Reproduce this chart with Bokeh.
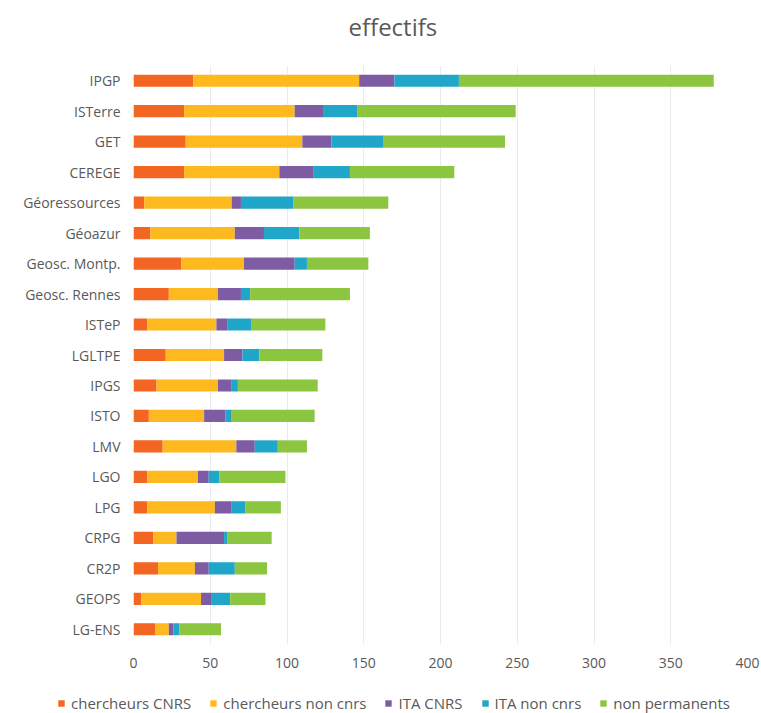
from bokeh.plotting import figure
from bokeh.layouts import column
from bokeh.models import Legend, LegendItem, FactorRange, Range1d, FixedTicker, ColumnDataSource, Label
from bokeh.embed import file_html
from bokeh.resources import INLINE

labos = ["IPGP", "ISTerre", "GET", "CEREGE", "Géoressources", "Géoazur",
         "Geosc. Montp.", "Geosc. Rennes", "ISTeP", "LGLTPE", "IPGS", "ISTO",
         "LMV", "LGO", "LPG", "CRPG", "CR2P", "GEOPS", "LG-ENS"]
chercheurs_cnrs = [39, 33, 34, 33, 7, 11, 31, 23, 9, 21, 15, 10, 19, 9, 9, 13, 16, 5, 14]
chercheurs_non_cnrs = [108, 72, 76, 62, 57, 55, 41, 32, 45, 38, 40, 36, 48, 33, 44, 15, 24, 39, 9]
ita_cnrs = [23, 19, 19, 22, 6, 19, 33, 15, 7, 12, 9, 14, 12, 7, 11, 31, 9, 7, 3]
ita_non_cnrs = [42, 22, 34, 24, 34, 23, 8, 6, 16, 11, 4, 4, 15, 7, 9, 2, 17, 12, 4]
non_permanents = [166, 103, 79, 68, 62, 46, 40, 65, 48, 41, 52, 54, 19, 43, 23, 29, 21, 23, 27]

title_text = "effectifs"
series_names = ["chercheurs CNRS", "chercheurs non cnrs", "ITA CNRS", "ITA non cnrs", "non permanents"]
x_ticks = [0, 50, 100, 150, 200, 250, 300, 350, 400]

colors = ["#F26522", "#FDB91E", "#7E5CA4", "#1FA6C9", "#8CC540"]
keys = ["s0", "s1", "s2", "s3", "s4"]

src = ColumnDataSource(dict(labo=labos, s0=chercheurs_cnrs, s1=chercheurs_non_cnrs,
                            s2=ita_cnrs, s3=ita_non_cnrs, s4=non_permanents))

FONT = "Open Sans"
GREY = "#595959"
W = 761
TH = 45            # title strip
LH = 33            # legend strip
H = 713 - TH - LH  # chart


def strip(height):
    f = figure(width=W, height=height, x_range=Range1d(0, 1), y_range=Range1d(0, 1),
               output_backend="svg", toolbar_location=None, title=None,
               x_axis_location=None, y_axis_location=None,
               min_border=0, min_border_left=0, min_border_right=0,
               min_border_top=0, min_border_bottom=0)
    if "frame_align" in f.properties():
        f.frame_align = False
    f.grid.visible = False
    f.outline_line_color = None
    return f


# title strip
tf = strip(TH)
tf.add_layout(Label(x=348, y=19, x_units="screen", y_units="screen",
                    text=title_text, text_font=FONT, text_font_size="24px",
                    text_color=GREY, text_align="left", text_baseline="alphabetic"))

# main chart
p = figure(y_range=FactorRange(*labos[::-1]), x_range=Range1d(0, 400),
           width=W, height=H, output_backend="svg", toolbar_location=None, title=None,
           min_border_left=133, min_border_right=W - 747,
           min_border_top=65 - TH, min_border_bottom=H - (644 - TH))
if "frame_align" in p.properties():
    p.frame_align = False
p.outline_line_color = None
p.background_fill_color = "white"

renderers = p.hbar_stack(keys, y="labo", height=0.4, color=colors, source=src,
                         line_color=None)

p.xaxis.ticker = FixedTicker(ticks=x_ticks)
for ax in (p.xaxis[0], p.yaxis[0]):
    ax.axis_line_color = None
    ax.major_tick_line_color = None
    ax.minor_tick_line_color = None
    ax.major_tick_out = 0
    ax.major_tick_in = 0
    ax.major_label_text_font = FONT
    ax.major_label_text_font_size = "14px"
    ax.major_label_text_color = GREY
p.xaxis.major_label_standoff = 13
p.yaxis.major_label_standoff = 13

p.ygrid.grid_line_color = None
p.xgrid.grid_line_color = "#E9EBEE"
p.xgrid.grid_line_width = 1

# legend strip
lf = strip(LH)
offscreen = ColumnDataSource(dict(y=[5.0], left=[5.0], right=[6.0]))
leg_r = [lf.hbar(y="y", left="left", right="right", height=0.4, color=c,
                 line_color=None, source=offscreen) for c in colors]
items = [LegendItem(label=n, renderers=[r]) for n, r in zip(series_names, leg_r)]
legend = Legend(items=items, orientation="horizontal", location=(57, 0),
                glyph_width=8, glyph_height=8, label_standoff=6, spacing=18,
                label_text_font=FONT, label_text_font_size="15px",
                label_text_color=GREY, border_line_color=None,
                background_fill_alpha=0, padding=2, margin=0)
lf.add_layout(legend, "center")

layout = column(tf, p, lf, spacing=0)
open("out.html", "w").write(file_html(layout, INLINE))
